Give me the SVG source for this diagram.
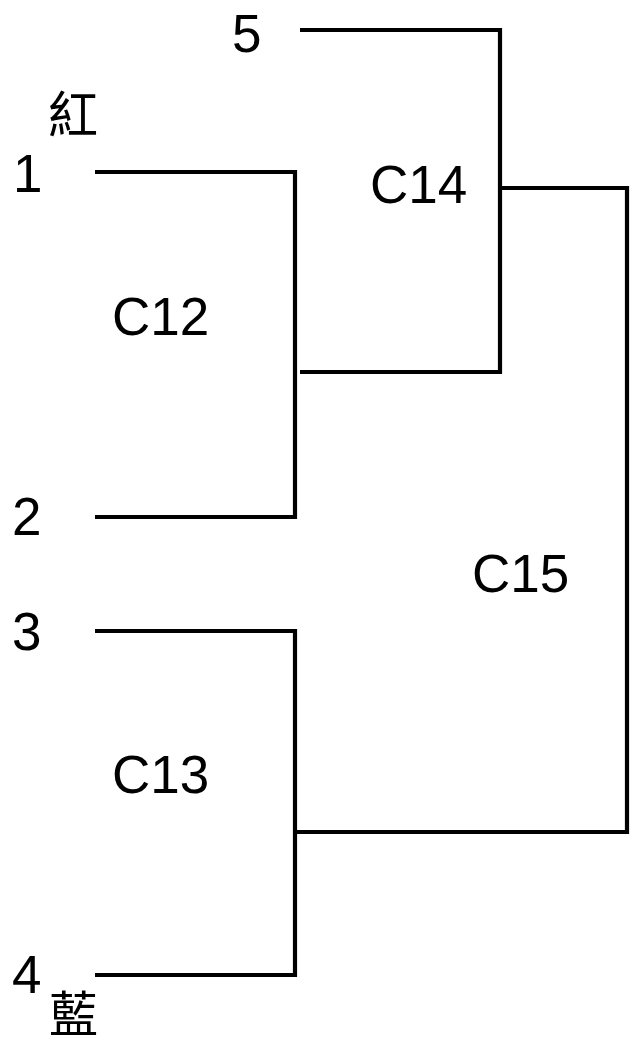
<svg xmlns="http://www.w3.org/2000/svg" width="630" height="1047" viewBox="0 0 630 1047">
<style>
.ln{fill:none;stroke:#000;stroke-width:4.2;stroke-linejoin:miter;stroke-linecap:butt}
.t{font-family:"Liberation Sans",Arial,sans-serif;font-size:53px;fill:#000}
.cjk{font-family:"Noto Sans CJK TC","Noto Sans CJK SC",serif;font-size:50px;fill:#000}
</style>
<rect width="630" height="1047" fill="#fff"/>
<g id="connectors">
<path class="ln" d="M95,172 H295 V517 H95"/>
<path class="ln" d="M95,631 H295 V975 H95"/>
<path class="ln" d="M300,30 H500 V372 H300"/>
<path class="ln" d="M500,188 H627 V832 H295"/>
</g>
<g id="leaf1"><text class="t" x="13" y="192">1</text></g>
<g id="leaf2"><text class="t" x="12" y="535">2</text></g>
<g id="leaf3"><text class="t" x="12" y="650">3</text></g>
<g id="leaf4"><text class="t" x="12" y="993">4</text></g>
<g id="leaf5"><text class="t" x="232" y="52">5</text></g>
<g id="C12"><text class="t" x="112" y="335">C12</text></g>
<g id="C13"><text class="t" x="112" y="793">C13</text></g>
<g id="C14"><text class="t" x="370" y="203">C14</text></g>
<g id="C15"><text class="t" x="472" y="592">C15</text></g>
<g id="red"><text class="cjk" x="48" y="133">紅</text></g>
<g id="blue"><text class="cjk" x="49" y="1032" style="font-size:49px">藍</text></g>
</svg>
